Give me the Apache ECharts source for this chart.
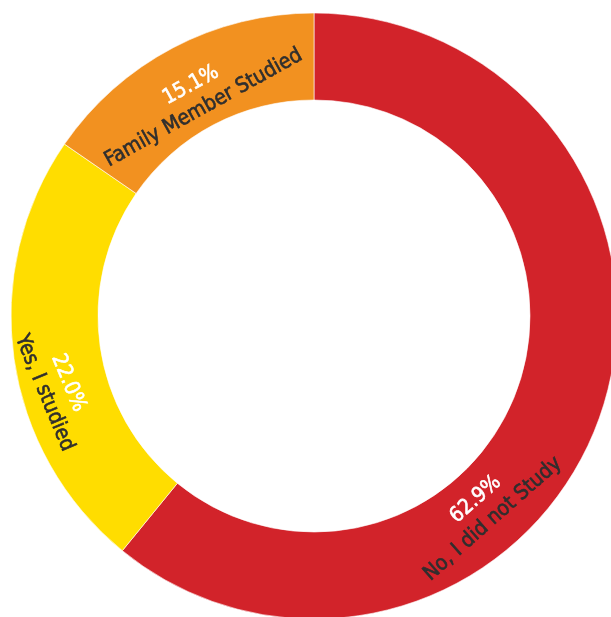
<!DOCTYPE html>
<html>
<head>
<meta charset="utf-8">
<script src="https://cdn.jsdelivr.net/npm/echarts@6/dist/echarts.min.js"></script>
<style>html,body{margin:0;padding:0;background:#fff;}#chart{width:611px;height:617px;}</style>
</head>
<body>
<div id="chart"></div>
<script>
const categories = ['No, I did not Study', 'Yes, I studied', 'Family Member Studied'];
// slice sizes as drawn in the reference (share of the ring, %)
const values = [60.9, 23.7, 15.4];
// percentage texts printed on the reference
const percentLabels = ['62.9%', '22.0%', '15.1%'];
const colors = ['#D2232A', '#FFDD00', '#F29120'];

// label placement styling
const labelAngleShift = [29, -7.5, -0.3];
const labelRadiusShift = [-2, 8, -11];
const labelRotateTweak = [0, 7, 1];

const CX = 314, CY = 316, R_IN = 216, R_OUT = 303;
const FONT = '"DejaVu Sans Condensed", "Liberation Sans", Arial, sans-serif';
const total = values.reduce((a, b) => a + b, 0);

const chart = echarts.init(document.getElementById('chart'), null, {renderer: 'canvas'});

function labelLayout(params) {
  const i = params.dataIndex;
  let start = 0;
  for (let k = 0; k < i; k++) start += values[k];
  const midDeg = (start + values[i] / 2) / total * 360;
  const theta = midDeg + labelAngleShift[i];
  const rad = theta * Math.PI / 180;
  const r = (R_IN + R_OUT) / 2 + labelRadiusShift[i];
  const x = CX + r * Math.sin(rad);
  const y = CY - r * Math.cos(rad);
  let t = ((theta % 360) + 360) % 360;
  let rot = (t > 90 && t < 270) ? 180 - t : -t;
  if (rot <= -180) rot += 360;
  if (rot > 180) rot -= 360;
  rot += labelRotateTweak[i];
  return { x: x, y: y, rotate: rot };
}

chart.setOption({
  backgroundColor: '#ffffff',
  animation: false,
  series: [{
    type: 'pie',
    center: [CX, CY],
    radius: [R_IN, R_OUT],
    startAngle: 90,
    clockwise: true,
    avoidLabelOverlap: false,
    itemStyle: { borderColor: '#ffffff', borderWidth: 0.6 },
    label: {
      show: true,
      position: 'inside',
      formatter: function (p) {
        return '{p|' + percentLabels[p.dataIndex] + '}\n{n|' + categories[p.dataIndex] + '}';
      },
      rich: {
        p: { color: '#ffffff', fontSize: 21, lineHeight: 26, fontFamily: FONT,
             textBorderColor: '#ffffff', textBorderWidth: 0.6 },
        n: { color: '#2e2e2e', fontSize: 21, lineHeight: 26, fontFamily: FONT,
             textBorderColor: '#2e2e2e', textBorderWidth: 0.6 }
      }
    },
    labelLine: { show: false },
    labelLayout: labelLayout,
    emphasis: { disabled: true },
    data: categories.map((c, i) => ({ name: c, value: values[i], itemStyle: { color: colors[i] } }))
  }]
});
</script>
</body>
</html>
